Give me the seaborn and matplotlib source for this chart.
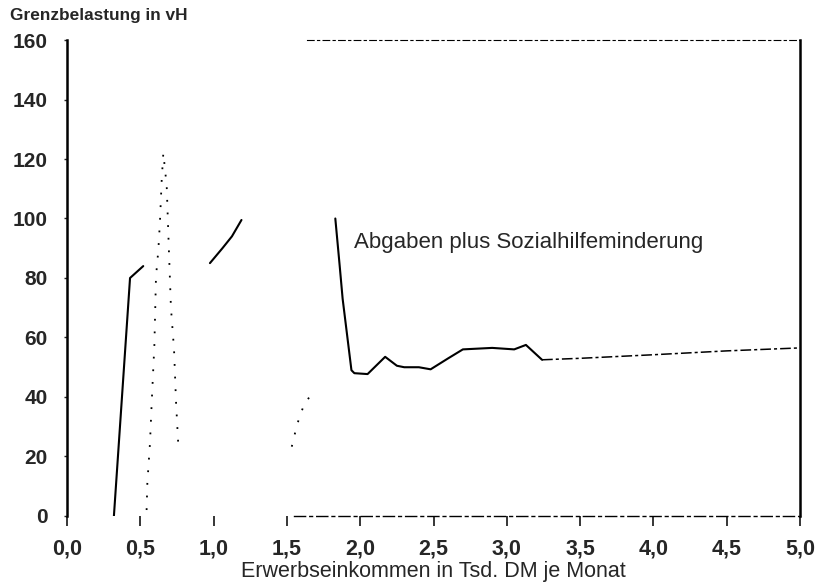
import pandas as pd
import matplotlib.pyplot as plt
import seaborn as sns

# Abgaben plus Sozialhilfeminderung (durchgezogene Linie, Lücken wie im Scan)
solid_a_x = [0.32, 0.43, 0.52]
solid_a_y = [0, 80, 84]
solid_b_x = [0.975, 1.06, 1.125, 1.19]
solid_b_y = [85, 90, 94, 99.5]
solid_c_x = [1.83, 1.86, 1.88, 1.94, 1.96, 2.05, 2.17, 2.25, 2.3, 2.4, 2.48, 2.6, 2.7, 2.9, 3.05, 3.13, 3.24]
solid_c_y = [100, 84, 73, 49, 48, 47.7, 53.5, 50.5, 50, 50, 49.3, 53, 56, 56.5, 56, 57.5, 52.5]
tail_x = [3.24, 3.5, 4.0, 4.5, 5.0]
tail_y = [52.5, 53, 54.2, 55.5, 56.5]

# gepunktete Linie
dot_a_x = [0.543, 0.548, 0.566, 0.578, 0.596, 0.607, 0.623, 0.634, 0.646, 0.657,
           0.68, 0.696, 0.709, 0.73, 0.744, 0.759]
dot_a_y = [2, 11, 24.5, 38.4, 57.5, 80.4, 89.4, 98.9, 113, 122,
           111, 88, 70, 56, 38, 24]
dot_b_x = [1.533, 1.555, 1.578, 1.612, 1.653]
dot_b_y = [23.3, 27.8, 32, 36.8, 40]

xticks = [0, 0.5, 1, 1.5, 2, 2.5, 3, 3.5, 4, 4.5, 5]
yticks = [0, 20, 40, 60, 80, 100, 120, 140, 160]

sns.set_style('white')
plt.rcParams['font.family'] = ['Liberation Sans', 'DejaVu Sans']


def segmente(paare):
    rows = []
    for i, (xs, ys) in enumerate(paare):
        for x, y in zip(xs, ys):
            rows.append({'x': x, 'y': y, 'seg': i})
    return pd.DataFrame(rows)


df_solid = segmente([(solid_a_x, solid_a_y), (solid_b_x, solid_b_y), (solid_c_x, solid_c_y)])
df_tail = segmente([(tail_x, tail_y)])
df_dot = segmente([(dot_a_x, dot_a_y), (dot_b_x, dot_b_y)])

fig = plt.figure(figsize=(8.24, 5.85), dpi=100)
ax = fig.add_axes([0.0813, 0.118, 0.8897, 0.8136])

sns.lineplot(data=df_solid, x='x', y='y', units='seg', estimator=None, sort=False,
             color='black', linewidth=1.5, ax=ax)
sns.lineplot(data=df_tail, x='x', y='y', units='seg', estimator=None, sort=False,
             color='black', linewidth=1.1, linestyle=(0, (7, 2, 2, 2)), ax=ax)
sns.lineplot(data=df_dot, x='x', y='y', units='seg', estimator=None, sort=False,
             color='black', linewidth=1.3, linestyle=(0, (1, 6)), ax=ax)

ax.set_xlim(0, 5)
ax.set_ylim(0, 160)
ax.set_xticks(xticks)
ax.set_xticklabels([f'{t:.1f}'.replace('.', ',') for t in xticks])
ax.set_yticks(yticks)
ax.set_yticklabels([str(t) for t in yticks])
ax.tick_params(axis='x', direction='out', length=7, width=1.3, pad=9,
               labelsize=15.5, bottom=True)
ax.tick_params(axis='y', direction='out', length=2, width=1, pad=12,
               labelsize=15, left=True)
for lab in ax.get_xticklabels() + ax.get_yticklabels():
    lab.set_fontweight('bold')

ax.spines['left'].set_linewidth(1.8)
ax.spines['right'].set_linewidth(1.8)
ax.spines['top'].set_linewidth(0.8)
ax.spines['top'].set_linestyle((0, (6, 3, 2, 3)))
ax.spines['top'].set_bounds(1.64, 5)
ax.spines['bottom'].set_linewidth(1.0)
ax.spines['bottom'].set_linestyle((0, (8, 3, 2, 3)))
ax.spines['bottom'].set_bounds(1.55, 5)
for s in ax.spines.values():
    s.set_color('black')

ax.set_xlabel('Erwerbseinkommen in Tsd. DM je Monat', fontsize=15.5, labelpad=1)
ax.set_ylabel('')
ax.text(1.96, 90, 'Abgaben plus Sozialhilfeminderung', fontsize=16,
        ha='left', va='baseline')
fig.text(0.012, 0.973, 'Grenzbelastung in vH', fontsize=12.4, fontweight='bold',
         ha='left', va='center')

fig.savefig('out.png', dpi=100)
